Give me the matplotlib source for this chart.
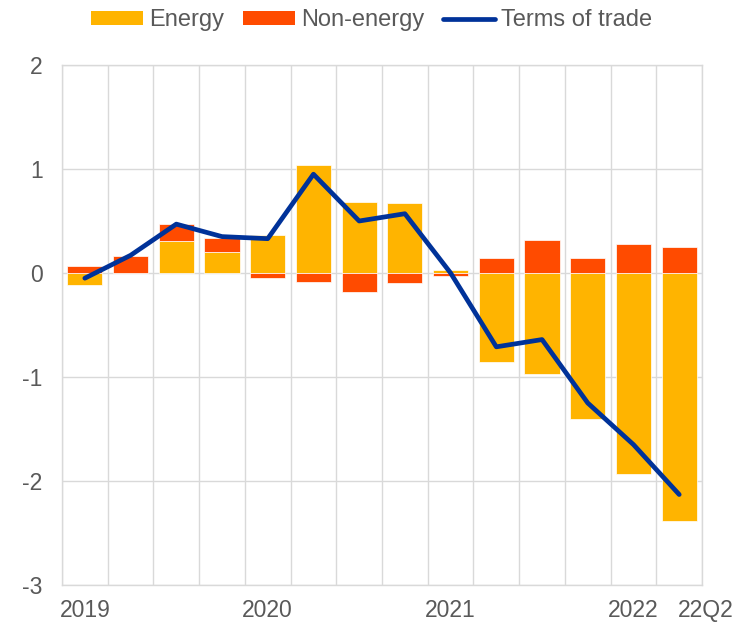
import numpy as np
import matplotlib.pyplot as plt
import matplotlib.transforms as mtransforms

plt.rcParams['font.family'] = ['Liberation Sans', 'DejaVu Sans']

# quarters 2019Q1 .. 2022Q2
quarters = ['19Q1', '19Q2', '19Q3', '19Q4', '20Q1', '20Q2', '20Q3', '20Q4',
            '21Q1', '21Q2', '21Q3', '21Q4', '22Q1', '22Q2']
energy = [-0.12, 0.0, 0.31, 0.20, 0.37, 1.04, 0.68, 0.67, 0.03, -0.86, -0.97, -1.40, -1.93, -2.38]
non_energy = [0.07, 0.16, 0.16, 0.14, -0.05, -0.09, -0.18, -0.10, -0.03, 0.14, 0.32, 0.14, 0.28, 0.25]
terms_of_trade = [-0.05, 0.17, 0.47, 0.35, 0.33, 0.95, 0.50, 0.57, 0.0, -0.71, -0.64, -1.25, -1.65, -2.13]

tick_pos = [0, 4, 8, 12, 13]
tick_labels = ['2019', '2020', '2021', '2022', '22Q2']

c_energy = '#FFB400'
c_non = '#FF4B00'
c_line = '#003299'
c_text = '#595959'
c_grid = '#D9D9D9'

fig = plt.figure(figsize=(7.46, 6.25), dpi=100)
ax = fig.add_axes([0.0831, 0.064, 0.858, 0.832])

x = np.arange(len(quarters))
e = np.array(energy)
n = np.array(non_energy)

# stacking by sign
e_bottom = np.zeros(len(x))
n_bottom = np.where((n >= 0) & (e >= 0), e, 0.0)
n_bottom = np.where((n < 0) & (e < 0), e, n_bottom)

w = 0.77
b1 = ax.bar(x, e, w, bottom=e_bottom, color=c_energy, edgecolor='white', linewidth=0.5,
            label='Energy', zorder=2)
b2 = ax.bar(x, n, w, bottom=n_bottom, color=c_non, edgecolor='white', linewidth=0.5,
            label='Non-energy', zorder=2)
l1, = ax.plot(x, terms_of_trade, color=c_line, linewidth=3.4, label='Terms of trade', zorder=3,
              solid_capstyle='round', solid_joinstyle='round')

ax.set_xlim(-0.5, 13.5)
ax.set_ylim(-3, 2)
ax.set_yticks([-3, -2, -1, 0, 1, 2])
ax.set_yticklabels(['-3', '-2', '-1', '0', '1', '2'])
ax.set_xticks(np.arange(-0.5, 14, 1), minor=True)
ax.set_xticks(tick_pos)
ax.set_xticklabels(tick_labels)

ax.grid(axis='y', color=c_grid, linewidth=1, zorder=0)
ax.grid(axis='x', which='minor', color=c_grid, linewidth=1, zorder=0)
ax.grid(axis='x', which='major', visible=False)
ax.set_axisbelow(True)

for s in ax.spines.values():
    s.set_color(c_grid)
    s.set_linewidth(1)

ax.tick_params(axis='both', which='both', length=0, labelsize=16.5, colors=c_text)
ax.tick_params(axis='y', pad=14)
ax.tick_params(axis='x', pad=10)

# last label shifted right
lab = ax.get_xticklabels()[-1]
lab.set_transform(lab.get_transform() + mtransforms.ScaledTranslation(0.265, 0, fig.dpi_scale_trans))

leg = fig.legend([b1, b2, l1], ['Energy', 'Non-energy', 'Terms of trade'],
                 loc='upper center', bbox_to_anchor=(0.498, 1.019), ncol=3, frameon=False,
                 fontsize=17, handlelength=2.2, handleheight=0.55, handletextpad=0.25,
                 columnspacing=0.8, labelcolor=c_text)
for h in leg.legend_handles[:2]:
    h.set_edgecolor('none')

plt.savefig('out.png', dpi=100)
